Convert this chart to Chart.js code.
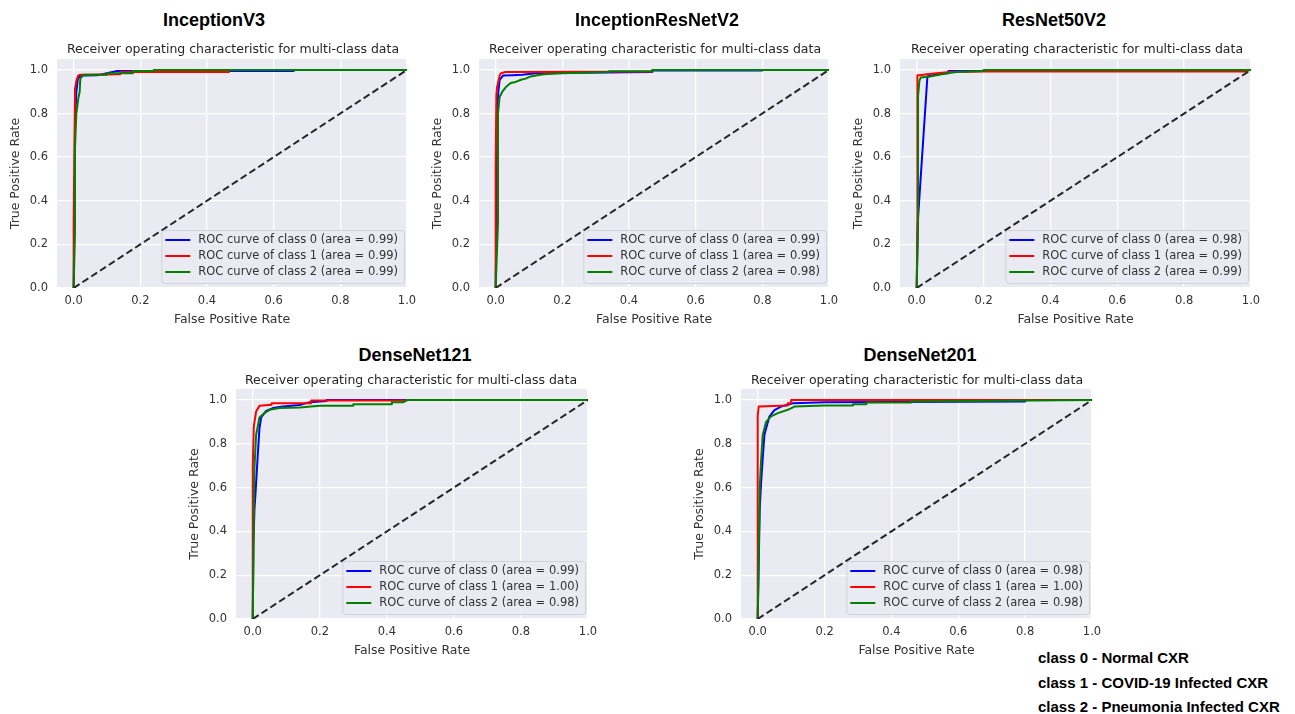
<!DOCTYPE html>
<html>
<head>
<meta charset="utf-8">
<script src="https://cdn.jsdelivr.net/npm/chart.js@4.4.1/dist/chart.umd.min.js"></script>
<style>
  body { margin: 0; background: #fff; width: 1295px; height: 714px; position: relative; overflow: hidden; }
  canvas { position: absolute; }
  .model { position: absolute; transform: translate(-50%, -50%); font: bold 18px "Liberation Sans", Arial, sans-serif; color: #000; white-space: nowrap; }
  .sub { position: absolute; transform: translate(-50%, -50%); font: 12.5px "DejaVu Sans", sans-serif; color: #262626; white-space: nowrap; }
  .classes { position: absolute; left: 1038px; top: 646px; font: bold 15px "Liberation Sans", Arial, sans-serif; line-height: 24.5px; color: #000; white-space: nowrap; }
</style>
</head>
<body>
<div class="classes" id="classes"></div>
<script>
// ================= DATA =================
const xTicks = [0, 0.2, 0.4, 0.6, 0.8, 1.0];
const yTicks = [0, 0.2, 0.4, 0.6, 0.8, 1.0];
const classDesc = ['Normal CXR', 'COVID-19 Infected CXR', 'Pneumonia Infected CXR'];
const modelNames = ['InceptionV3', 'InceptionResNetV2', 'ResNet50V2', 'DenseNet121', 'DenseNet201'];
const subTitle = 'Receiver operating characteristic for multi-class data';

// InceptionV3
const inc3_auc = [0.99, 0.99, 0.99];
const inc3_c0_fpr = [0, 0.004, 0.004, 0.008, 0.013, 0.02, 0.03, 0.07, 0.1, 0.13, 0.66, 0.66, 1.0];
const inc3_c0_tpr = [0, 0.55, 0.75, 0.90, 0.962, 0.972, 0.974, 0.975, 0.985, 0.995, 0.995, 1.0, 1.0];
const inc3_c1_fpr = [0, 0, 0.002, 0.004, 0.008, 0.014, 0.02, 0.043, 0.14, 0.14, 0.466, 0.466, 1.0];
const inc3_c1_tpr = [0, 0.28, 0.65, 0.914, 0.95, 0.975, 0.978, 0.978, 0.98, 0.99, 0.99, 1.0, 1.0];
const inc3_c2_fpr = [0, 0.004, 0.004, 0.008, 0.014, 0.018, 0.02, 0.03, 0.1, 0.1, 0.178, 0.178, 0.24, 0.24, 1.0];
const inc3_c2_tpr = [0, 0.27, 0.64, 0.8, 0.87, 0.9, 0.96, 0.978, 0.978, 0.985, 0.985, 0.995, 0.995, 1.0, 1.0];

// InceptionResNetV2
const incres_auc = [0.99, 0.99, 0.98];
const incres_c0_fpr = [0, 0.004, 0.004, 0.008, 0.012, 0.022, 0.05, 0.08, 0.12, 0.47, 0.47, 0.8, 0.8, 1.0];
const incres_c0_tpr = [0, 0.55, 0.8, 0.9, 0.954, 0.974, 0.976, 0.978, 0.985, 0.99, 0.997, 0.997, 1.0, 1.0];
const incres_c1_fpr = [0, 0, 0.002, 0.004, 0.012, 0.016, 0.03, 0.47, 0.47, 1.0];
const incres_c1_tpr = [0, 0.55, 0.885, 0.92, 0.974, 0.985, 0.99, 0.993, 1.0, 1.0];
const incres_c2_fpr = [0, 0.007, 0.007, 0.012, 0.02, 0.03, 0.045, 0.06, 0.076, 0.09, 0.105, 0.125, 0.145, 0.2, 0.34, 0.34, 0.47, 0.47, 1.0];
const incres_c2_tpr = [0, 0.3, 0.8, 0.877, 0.9, 0.92, 0.94, 0.945, 0.955, 0.96, 0.97, 0.975, 0.98, 0.985, 0.99, 0.994, 0.994, 1.0, 1.0];

// ResNet50V2
const res50_auc = [0.98, 0.99, 0.99];
const res50_c0_fpr = [0, 0.003, 0.032, 0.06, 0.095, 0.095, 0.3, 0.3, 1.0];
const res50_c0_tpr = [0, 0.3, 0.97, 0.98, 0.985, 0.995, 0.995, 1.0, 1.0];
const res50_c1_fpr = [0, 0.002, 0.002, 0.01, 0.03, 0.06, 0.1, 0.2, 0.99, 0.99, 1.0];
const res50_c1_tpr = [0, 0.3, 0.975, 0.975, 0.98, 0.985, 0.99, 0.993, 0.993, 1.0, 1.0];
const res50_c2_fpr = [0, 0.004, 0.004, 0.008, 0.012, 0.04, 0.06, 0.09, 0.12, 0.2, 0.2, 1.0];
const res50_c2_tpr = [0, 0.3, 0.88, 0.95, 0.965, 0.97, 0.975, 0.985, 0.99, 0.995, 1.0, 1.0];

// DenseNet121
const dn121_auc = [0.99, 1.00, 0.98];
const dn121_c0_fpr = [0, 0.002, 0.005, 0.008, 0.015, 0.02, 0.025, 0.04, 0.06, 0.09, 0.14, 0.17, 0.22, 0.22, 1.0];
const dn121_c0_tpr = [0, 0.35, 0.5, 0.57, 0.75, 0.87, 0.92, 0.95, 0.963, 0.97, 0.977, 0.99, 0.995, 1.0, 1.0];
const dn121_c1_fpr = [0, 0, 0.003, 0.01, 0.02, 0.056, 0.056, 0.174, 0.174, 0.46, 0.46, 1.0];
const dn121_c1_tpr = [0, 0.7, 0.878, 0.947, 0.974, 0.978, 0.985, 0.985, 0.997, 0.997, 1.0, 1.0];
const dn121_c2_fpr = [0, 0.003, 0.005, 0.01, 0.02, 0.035, 0.05, 0.08, 0.14, 0.2, 0.3, 0.3, 0.415, 0.415, 0.45, 0.46, 1.0];
const dn121_c2_tpr = [0, 0.45, 0.69, 0.84, 0.92, 0.94, 0.955, 0.963, 0.966, 0.973, 0.973, 0.98, 0.98, 0.99, 0.99, 1.0, 1.0];

// DenseNet201
const dn201_auc = [0.98, 1.00, 0.98];
const dn201_c0_fpr = [0, 0.006, 0.01, 0.015, 0.02, 0.025, 0.035, 0.05, 0.07, 0.105, 0.2, 0.8, 0.8, 1.0];
const dn201_c0_tpr = [0, 0.5, 0.62, 0.734, 0.84, 0.87, 0.924, 0.954, 0.97, 0.985, 0.99, 0.993, 1.0, 1.0];
const dn201_c1_fpr = [0, 0, 0.003, 0.09, 0.09, 0.1, 0.1, 1.0];
const dn201_c1_tpr = [0, 0.93, 0.97, 0.975, 0.985, 0.985, 1.0, 1.0];
const dn201_c2_fpr = [0, 0.006, 0.01, 0.015, 0.025, 0.04, 0.06, 0.09, 0.11, 0.2, 0.285, 0.285, 0.325, 0.325, 0.46, 0.46, 1.0];
const dn201_c2_tpr = [0, 0.6, 0.72, 0.84, 0.9, 0.925, 0.94, 0.955, 0.97, 0.975, 0.975, 0.98, 0.98, 0.988, 0.988, 0.993, 1.0];

const chance_fpr = [0, 1];
const chance_tpr = [0, 1];

// ================= LAYOUT =================
// pixel where fpr 0 / fpr 1 and tpr 0 / tpr 1 sit for each panel
const panelBox = [
    { x0: 74, x1: 407, y0: 288, y1: 70, tx: 214, ty: 20, sx: 233, sy: 48 },
    { x0: 496, x1: 829, y0: 288, y1: 70, tx: 657, ty: 20, sx: 655, sy: 48 },
    { x0: 917, x1: 1251, y0: 288, y1: 70, tx: 1054, ty: 20, sx: 1077, sy: 48 },
    { x0: 253, x1: 588, y0: 619, y1: 400, tx: 415, ty: 355, sx: 411, sy: 379 },
    { x0: 758, x1: 1092, y0: 619, y1: 400, tx: 920, ty: 355, sx: 917, sy: 379 }
];
const AXW = 56, AXH = 42, PAD_T = 18, PAD_R = 18;
const lineColors = ['blue', 'red', 'green'];
const tickFont = { family: 'DejaVu Sans', size: 11.5 };
const titleFont = { family: 'DejaVu Sans', size: 12.5 };

Chart.defaults.font.family = 'DejaVu Sans';
Chart.defaults.color = '#333';

const plotBg = {
    id: 'plotBg',
    beforeDraw(chart) {
        const { ctx, chartArea: a } = chart;
        ctx.save();
        ctx.fillStyle = '#EAEAF2';
        ctx.fillRect(a.left, a.top, a.right - a.left, a.bottom - a.top);
        ctx.restore();
    }
};

// legend box inside the plot, lower right (like matplotlib loc="lower right")
const rocLegend = {
    id: 'rocLegend',
    afterDatasetsDraw(chart, args, opts) {
        const { ctx, chartArea: a } = chart;
        ctx.save();
        ctx.font = '11.5px "DejaVu Sans"';
        const textW = Math.max(...opts.labels.map(t => ctx.measureText(t).width));
        const boxW = 4 + 25 + 8 + textW + 6;
        const boxH = 53;
        const bx = a.right - 3 - boxW;
        const by = a.bottom - 5 - boxH;
        ctx.beginPath();
        ctx.roundRect(bx + 0.5, by + 0.5, boxW, boxH, 3);
        ctx.fillStyle = 'rgba(234,234,242,0.85)';
        ctx.fill();
        ctx.strokeStyle = '#d2d2da';
        ctx.lineWidth = 1;
        ctx.stroke();
        opts.labels.forEach((t, i) => {
            const cy = by + 10 + 16 * i;
            ctx.beginPath();
            ctx.moveTo(bx + 4, cy);
            ctx.lineTo(bx + 29, cy);
            ctx.strokeStyle = opts.colors[i];
            ctx.lineWidth = 2;
            ctx.stroke();
            ctx.fillStyle = '#333';
            ctx.textBaseline = 'middle';
            ctx.fillText(t, bx + 37, cy + 0.5);
        });
        ctx.restore();
    }
};

function pts(fpr, tpr) {
    return fpr.map((f, i) => ({ x: f, y: tpr[i] }));
}

function makePanel(idx, curves, auc) {
    const b = panelBox[idx];
    const ux = b.x1 - b.x0, uy = b.y0 - b.y1;
    const plotLeft = Math.round(b.x0 - 0.05 * ux);
    const plotTop = Math.round(b.y1 - 0.05 * uy);
    const plotW = b.x1 - plotLeft, plotH = b.y0 - plotTop;

    const cv = document.createElement('canvas');
    cv.width = AXW + plotW + PAD_R;
    cv.height = PAD_T + plotH + AXH;
    cv.style.left = (plotLeft - AXW) + 'px';
    cv.style.top = (plotTop - PAD_T) + 'px';
    document.body.appendChild(cv);

    const t = document.createElement('div');
    t.className = 'model';
    t.style.left = b.tx + 'px'; t.style.top = b.ty + 'px';
    t.innerText = modelNames[idx];
    document.body.appendChild(t);
    const s = document.createElement('div');
    s.className = 'sub';
    s.style.left = b.sx + 'px'; s.style.top = b.sy + 'px';
    s.innerText = subTitle;
    document.body.appendChild(s);

    const labels = auc.map((v, i) => `ROC curve of class ${i} (area = ${v.toFixed(2)})`);
    const datasets = curves.map((c, i) => ({
        data: pts(c[0], c[1]), borderColor: lineColors[i], borderWidth: 2, order: 3 - i
    }));
    datasets.push({ data: pts(chance_fpr, chance_tpr), borderColor: '#262626', borderWidth: 2, borderDash: [7, 3.5], order: 0 });

    new Chart(cv.getContext('2d'), {
        type: 'line',
        data: { datasets },
        options: {
            responsive: false, animation: false, devicePixelRatio: 1,
            layout: { padding: { top: PAD_T, right: PAD_R, left: 0, bottom: 0 } },
            elements: { point: { radius: 0 }, line: { tension: 0, borderJoinStyle: 'round', fill: false } },
            plugins: { legend: { display: false }, tooltip: { enabled: false }, rocLegend: { labels, colors: lineColors } },
            scales: {
                x: {
                    type: 'linear', min: -0.05, max: 1.0,
                    afterBuildTicks: sc => { sc.ticks = xTicks.map(v => ({ value: v })); },
                    afterFit: sc => { sc.height = AXH; },
                    grid: { color: '#fff', lineWidth: 1.3, drawTicks: false },
                    border: { display: false },
                    ticks: { padding: 6, color: '#333', font: tickFont, maxRotation: 0, autoSkip: false, callback: v => v.toFixed(1) },
                    title: { display: true, text: 'False Positive Rate', color: '#333', font: titleFont, padding: { top: 0, bottom: 3 } }
                },
                y: {
                    type: 'linear', min: 0, max: 1.05,
                    afterBuildTicks: sc => { sc.ticks = yTicks.map(v => ({ value: v })); },
                    afterFit: sc => { sc.width = AXW; },
                    grid: { color: '#fff', lineWidth: 1.3, drawTicks: false },
                    border: { display: false },
                    ticks: { padding: 9, color: '#333', font: tickFont, autoSkip: false, callback: v => v.toFixed(1) },
                    title: { display: true, text: 'True Positive Rate', color: '#333', font: titleFont, padding: { top: 7, bottom: 0 } }
                }
            }
        },
        plugins: [plotBg, rocLegend]
    });
}

makePanel(0, [[inc3_c0_fpr, inc3_c0_tpr], [inc3_c1_fpr, inc3_c1_tpr], [inc3_c2_fpr, inc3_c2_tpr]], inc3_auc);
makePanel(1, [[incres_c0_fpr, incres_c0_tpr], [incres_c1_fpr, incres_c1_tpr], [incres_c2_fpr, incres_c2_tpr]], incres_auc);
makePanel(2, [[res50_c0_fpr, res50_c0_tpr], [res50_c1_fpr, res50_c1_tpr], [res50_c2_fpr, res50_c2_tpr]], res50_auc);
makePanel(3, [[dn121_c0_fpr, dn121_c0_tpr], [dn121_c1_fpr, dn121_c1_tpr], [dn121_c2_fpr, dn121_c2_tpr]], dn121_auc);
makePanel(4, [[dn201_c0_fpr, dn201_c0_tpr], [dn201_c1_fpr, dn201_c1_tpr], [dn201_c2_fpr, dn201_c2_tpr]], dn201_auc);

// class key, bottom right
document.getElementById('classes').innerHTML = classDesc.map((d, i) => `class ${i} - ${d}`).join('<br>');
</script>
</body>
</html>
